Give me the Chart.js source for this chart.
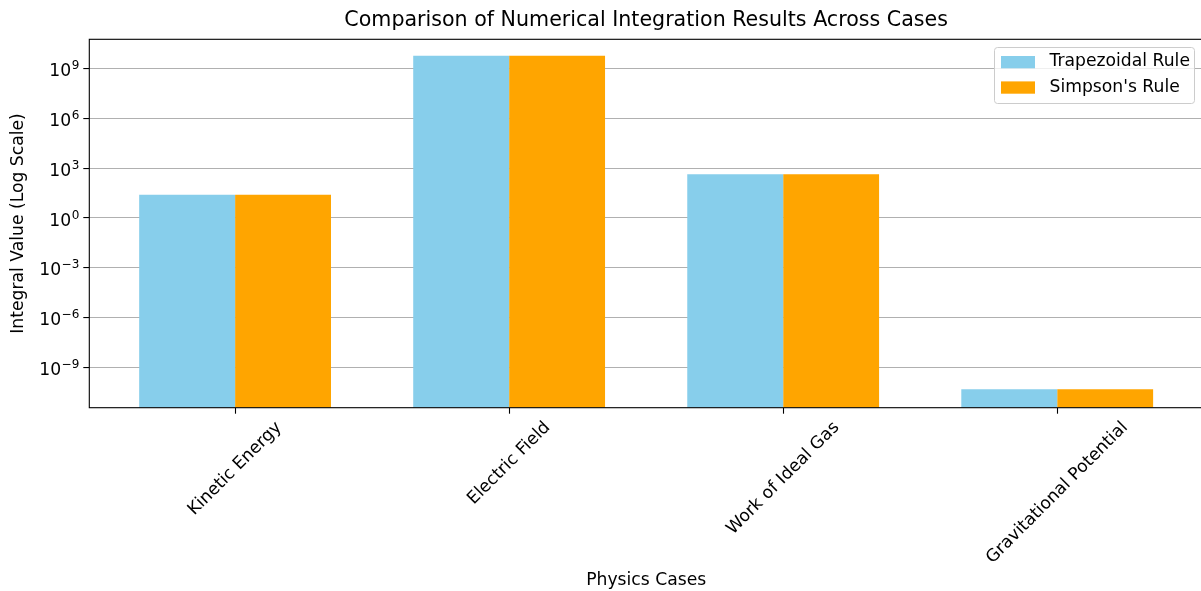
<!DOCTYPE html>
<html>
<head>
<meta charset="utf-8">
<script src="https://cdn.jsdelivr.net/npm/chart.js@4.4.1/dist/chart.umd.min.js"></script>
<style>
  html, body { margin: 0; padding: 0; overflow: hidden; background: #ffffff; }
  #wrap { position: relative; width: 1203px; height: 591px; }
</style>
</head>
<body>
<div id="wrap"><canvas id="chart"></canvas></div>
<script>
// Integral results per physics case, computed with two quadrature rules
const categories = ['Kinetic Energy', 'Electric Field', 'Work of Ideal Gas', 'Gravitational Potential'];
const trapezoidal = [25, 5.8e9, 425, 5.0e-11];
const simpson = [25, 5.8e9, 425, 5.0e-11];
const yTickExponents = [-9, -6, -3, 0, 3, 6, 9];

const FONT = "'DejaVu Sans', 'Liberation Sans', sans-serif";
const TEXT = '#000000';
const BASE = 17.2;      // regular label size, px
const TITLE = 20.6;     // title size, px
const SUP = 12.0;       // exponent size, px

const toPoints = vals => vals.map((v, i) => ({ x: i, y: v }));

// Title, axis titles, tick labels, frame and legend drawn in matplotlib style
const decorations = {
  id: 'decorations',
  afterDraw(chart) {
    const { ctx, chartArea: a, scales } = chart;
    const xs = scales.x, ys = scales.y;
    ctx.save();
    ctx.fillStyle = TEXT;

    // axes frame
    ctx.strokeStyle = '#000';
    ctx.lineWidth = 1.1;
    ctx.strokeRect(a.left, a.top, a.right - a.left, a.bottom - a.top);

    // title
    const cx = (a.left + a.right) / 2;
    ctx.font = `${TITLE}px ${FONT}`;
    ctx.textAlign = 'center';
    ctx.textBaseline = 'middle';
    ctx.fillText('Comparison of Numerical Integration Results Across Cases', cx, 21);

    // x axis title
    ctx.font = `${BASE}px ${FONT}`;
    ctx.fillText('Physics Cases', cx, 580.5);

    // y axis title
    ctx.save();
    ctx.translate(19, (a.top + a.bottom) / 2);
    ctx.rotate(-Math.PI / 2);
    ctx.fillText('Integral Value (Log Scale)', 0, 0);
    ctx.restore();

    // rotated category labels, centered under each tick
    ctx.font = `${BASE}px ${FONT}`;
    const topY = a.bottom + 12;
    categories.forEach((label, i) => {
      const px = xs.getPixelForValue(i);
      const w = ctx.measureText(label).width;
      const h = BASE * 0.85;
      const half = (w + h) / (2 * Math.SQRT2);
      ctx.save();
      ctx.translate(px, topY + half);
      ctx.rotate(-Math.PI / 4);
      ctx.textAlign = 'center';
      ctx.textBaseline = 'middle';
      ctx.fillText(label, 0, 0);
      ctx.restore();
    });

    // y tick labels as 10 with superscript exponent
    const rightX = a.left - 10;
    yTickExponents.forEach(e => {
      const py = ys.getPixelForValue(Math.pow(10, e));
      const expStr = e < 0 ? '\u2212' + Math.abs(e) : String(e);
      ctx.font = `${BASE}px ${FONT}`;
      const wBase = ctx.measureText('10').width;
      ctx.font = `${SUP}px ${FONT}`;
      const wExp = ctx.measureText(expStr).width;
      const x0 = rightX - wBase - wExp - 0.5;
      ctx.textAlign = 'left';
      ctx.textBaseline = 'alphabetic';
      ctx.font = `${BASE}px ${FONT}`;
      ctx.fillText('10', x0, py + 7.5);
      ctx.font = `${SUP}px ${FONT}`;
      ctx.fillText(expStr, x0 + wBase + 0.5, py + 0.5);
    });

    // legend
    const lx = 994, ly = 47, lw = 200, lh = 56;
    ctx.beginPath();
    ctx.roundRect(lx + 0.5, ly + 0.5, lw, lh, 3);
    ctx.fillStyle = 'rgba(255,255,255,0.8)';
    ctx.fill();
    ctx.strokeStyle = '#cccccc';
    ctx.lineWidth = 1;
    ctx.stroke();
    ctx.font = `${BASE}px ${FONT}`;
    ctx.textAlign = 'left';
    ctx.textBaseline = 'middle';
    chart.data.datasets.forEach((ds, i) => {
      const rowY = 62 + i * 25.4;
      ctx.fillStyle = ds.backgroundColor;
      ctx.fillRect(1001, rowY - 6, 34, 12.3);
      ctx.fillStyle = TEXT;
      ctx.fillText(ds.label, 1049.5, rowY);
    });

    ctx.restore();
  }
};

new Chart(document.getElementById('chart'), {
  type: 'bar',
  data: {
    datasets: [
      { label: 'Trapezoidal Rule', data: toPoints(trapezoidal), backgroundColor: '#87ceeb', borderWidth: 0 },
      { label: "Simpson's Rule", data: toPoints(simpson), backgroundColor: '#ffa500', borderWidth: 0 }
    ]
  },
  options: {
    responsive: true,
    maintainAspectRatio: false,
    animation: false,
    events: [],
    categoryPercentage: 0.7,
    barPercentage: 1.0,
    layout: { padding: { top: 39.3, left: 0, right: 0, bottom: 0 } },
    plugins: {
      legend: { display: false },
      title: { display: false },
      tooltip: { enabled: false }
    },
    scales: {
      x: {
        type: 'linear',
        min: -0.532,
        max: 3.532,
        offset: false,
        z: 1,
        afterBuildTicks: s => { s.ticks = categories.map((_, i) => ({ value: i })); },
        afterFit: s => { s.height = 591 - 407.7; },
        ticks: { display: false },
        border: { display: false },
        grid: {
          offset: false,
          drawOnChartArea: false,
          drawTicks: true,
          tickLength: 6,
          tickColor: '#000',
          tickWidth: 1.1
        }
      },
      y: {
        type: 'logarithmic',
        min: Math.pow(10, -11.41),
        max: Math.pow(10, 10.75),
        z: 1,
        afterBuildTicks: s => { s.ticks = yTickExponents.map(e => ({ value: Math.pow(10, e), major: true })); },
        afterFit: s => { s.width = 89.3; },
        ticks: { display: false },
        border: { display: false },
        grid: {
          color: '#b0b0b0',
          lineWidth: 1.1,
          drawTicks: true,
          tickLength: 6,
          tickColor: '#000',
          tickWidth: 1.1
        }
      }
    }
  },
  plugins: [decorations]
});
</script>
</body>
</html>
